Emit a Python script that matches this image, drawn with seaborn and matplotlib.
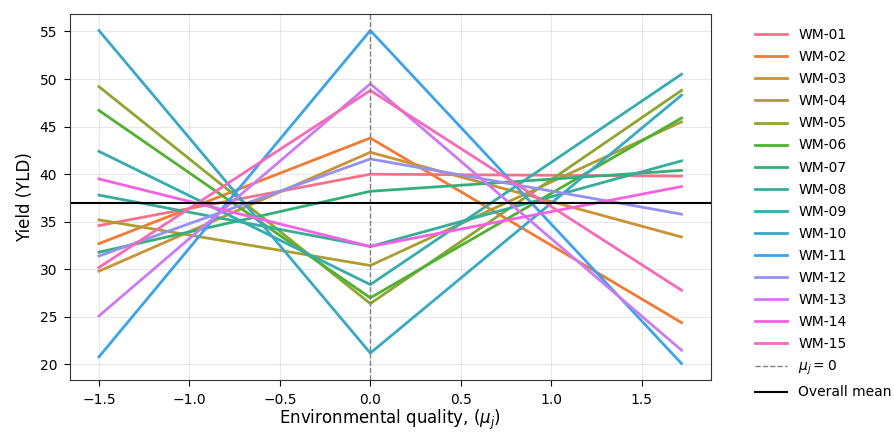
import numpy as np
import pandas as pd
import matplotlib
matplotlib.use("Agg")
import matplotlib.pyplot as plt
import seaborn as sns

# environmental index of the three sites
env_index = [-1.5, 0.0, 1.72]

genotypes = ['WM-%02d' % i for i in range(1, 16)]

# yield per genotype at each environment
wm01 = [34.6, 40.0, 39.8]
wm02 = [32.7, 43.8, 24.4]
wm03 = [29.8, 42.3, 33.4]
wm04 = [35.2, 30.4, 45.5]
wm05 = [49.2, 26.4, 48.8]
wm06 = [46.7, 27.0, 45.9]
wm07 = [31.8, 38.2, 40.4]
wm08 = [37.8, 32.4, 41.4]
wm09 = [42.4, 28.4, 50.5]
wm10 = [55.1, 21.2, 48.3]
wm11 = [20.8, 55.1, 20.1]
wm12 = [31.4, 41.6, 35.8]
wm13 = [25.1, 49.5, 21.5]
wm14 = [39.5, 32.4, 38.7]
wm15 = [30.2, 48.8, 27.8]

yields = [wm01, wm02, wm03, wm04, wm05, wm06, wm07, wm08,
          wm09, wm10, wm11, wm12, wm13, wm14, wm15]

rows = []
for g, vals in zip(genotypes, yields):
    for mu, v in zip(env_index, vals):
        rows.append({'genotype': g, 'mu': mu, 'yld': v})
df = pd.DataFrame(rows)

overall_mean = df['yld'].mean()

fig = plt.figure(figsize=(8.95, 4.33), dpi=100)
ax = fig.add_axes([0.078, 0.122, 0.716, 0.846])

sns.lineplot(data=df, x='mu', y='yld', hue='genotype',
             palette=sns.color_palette('husl', 15), linewidth=2, ax=ax)

ax.axvline(0, color='gray', ls='--', lw=1, label=r'$\mu_j = 0$')
ax.axhline(overall_mean, color='black', lw=1.5, label='Overall mean')

ax.grid(True, alpha=0.3)
ax.set_xlabel(r'Environmental quality, ($\mu_j$)', fontsize=12, labelpad=1)
ax.set_ylabel('Yield (YLD)', fontsize=12)
ax.tick_params(labelsize=10, length=4, pad=5)
for s in ax.spines.values():
    s.set_color('#333333')

handles, labels = ax.get_legend_handles_labels()
ax.legend(handles, labels, bbox_to_anchor=(1.05, 0.995), loc='upper left',
          frameon=False, fontsize=10, labelspacing=0.58, handlelength=2.3)

fig.savefig('out.png', dpi=100)
